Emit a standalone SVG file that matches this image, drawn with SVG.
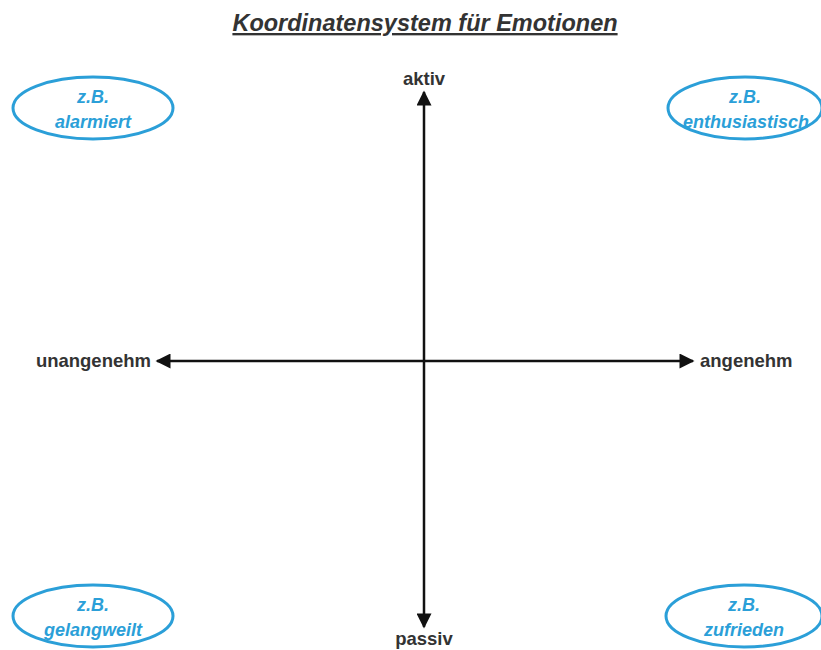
<svg xmlns="http://www.w3.org/2000/svg" width="821" height="650" viewBox="0 0 821 650">
<style>
.title{font-family:"Liberation Sans",Arial,sans-serif;font-size:23.5px;font-weight:bold;font-style:italic;fill:#333;text-decoration:underline}
.ax{font-family:"Liberation Sans",Arial,sans-serif;font-size:18.5px;font-weight:bold;fill:#333}
.el{fill:none;stroke:#2b9fd8;stroke-width:3}
.et{font-family:"Liberation Sans",Arial,sans-serif;font-size:18px;font-weight:bold;font-style:italic;fill:#2b9fd8;text-anchor:middle}
.line{stroke:#111;stroke-width:2.5;fill:none}
</style>
<defs>
<marker id="ah" viewBox="0 0 10 10" refX="9" refY="5" markerWidth="6.5" markerHeight="6" markerUnits="strokeWidth" orient="auto">
<path d="M0,0 L10,5 L0,10 z" fill="#111"/>
</marker>
</defs>
<rect width="821" height="650" fill="#fff"/>
<text class="title" x="425" y="31" text-anchor="middle">Koordinatensystem für Emotionen</text>
<g id="connectors">
<line class="line" x1="424" y1="361" x2="424" y2="92" marker-end="url(#ah)"/>
<line class="line" x1="424" y1="361" x2="424" y2="627" marker-end="url(#ah)"/>
<line class="line" x1="424" y1="361" x2="157" y2="361" marker-end="url(#ah)"/>
<line class="line" x1="424" y1="361" x2="693" y2="361" marker-end="url(#ah)"/>
</g>
<g id="aktiv"><text class="ax" x="424" y="85" text-anchor="middle">aktiv</text></g>
<g id="passiv"><text class="ax" x="424" y="645" text-anchor="middle">passiv</text></g>
<g id="unangenehm"><text class="ax" x="151" y="367" text-anchor="end">unangenehm</text></g>
<g id="angenehm"><text class="ax" x="700" y="367">angenehm</text></g>
<g id="alarmiert">
<ellipse class="el" cx="93" cy="108" rx="80" ry="31"/>
<text class="et" x="93" y="103">z.B.</text>
<text class="et" x="93" y="128">alarmiert</text>
</g>
<g id="enthusiastisch">
<ellipse class="el" cx="745" cy="108" rx="77" ry="31"/>
<text class="et" x="745" y="103">z.B.</text>
<text class="et" x="746" y="128">enthusiastisch</text>
</g>
<g id="gelangweilt">
<ellipse class="el" cx="93" cy="616" rx="80" ry="31"/>
<text class="et" x="93" y="611">z.B.</text>
<text class="et" x="93" y="636">gelangweilt</text>
</g>
<g id="zufrieden">
<ellipse class="el" cx="744" cy="616" rx="78" ry="31"/>
<text class="et" x="744" y="611">z.B.</text>
<text class="et" x="744" y="636">zufrieden</text>
</g>
</svg>
